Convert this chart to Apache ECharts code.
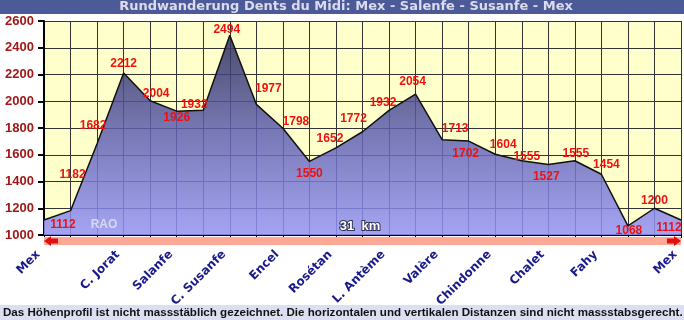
<!DOCTYPE html>
<html><head><meta charset="utf-8">
<script src="https://cdn.jsdelivr.net/npm/echarts@6/dist/echarts.min.js"></script>
<style>html,body{margin:0;padding:0;background:#fff}#c{width:684px;height:320px}</style>
</head><body><div id="c"></div>
<script>
// ---- data ----
const stops = ['Mex','','','C. Jorat','','Salanfe','','C. Susanfe','','Encel','','Rosétan','','L. Antème','','Valère','','Chindonne','','Chalet','','Fahy','','','Mex'];
const elevations = [1112,1182,1682,2212,2004,1926,1932,2494,1977,1798,1550,1652,1772,1932,2054,1713,1702,1604,1555,1527,1555,1454,1068,1200,1112];
const yTicks = {min:1000, max:2600, step:200};
const titleText = 'Rundwanderung Dents du Midi: Mex - Salenfe - Susanfe - Mex';
const footText = 'Das Höhenprofil ist nicht massstäblich gezeichnet. Die horizontalen und vertikalen Distanzen sind nicht massstabsgerecht.';
const distanceText = '31  km';
const sourceText = 'RAO';
// ---- label placement (style) ----
const labelOffsets = [[19,5],[2,-36],[-4,-18],[0,-9],[6,-7],[0,7],[-9,-6],[-3,-5],[12,-16],[13,-7],[0,12],[-6,-9],[-9,-13],[-6,-8],[-3,-12],[13,-11],[-3,13],[8,-10],[5,-4],[-2,12],[1,-7],[5,-10],[1,5],[0,-8],[-12,8]];

const seriesData = elevations.map((v,i)=>({value:v, label:{offset:labelOffsets[i]}}));

const chart = echarts.init(document.getElementById('c'), null, {renderer:'canvas'});
chart.setOption({
  animation:false,
  backgroundColor:'#ffffff',
  grid:{left:44, right:3, top:21, bottom:85, show:true, backgroundColor:'#ffffcc', borderWidth:0},
  xAxis:{
    type:'category', data:stops, boundaryGap:false,
    axisLine:{show:true, lineStyle:{color:'#000', width:2}},
    axisTick:{show:true, interval:0, length:3, lineStyle:{color:'#000'}},
    splitLine:{show:true, interval:0, lineStyle:{color:'#333', width:1}},
    axisLabel:{interval:0, rotate:45, margin:12, padding:[0,8,0,0], color:'#1a1a8c', fontFamily:'DejaVu Sans', fontWeight:'bold', fontSize:12}
  },
  yAxis:{
    type:'value', min:yTicks.min, max:yTicks.max, interval:yTicks.step,
    axisLine:{show:true, lineStyle:{color:'#000', width:2}},
    axisTick:{show:true, length:6, lineStyle:{color:'#000', width:2}},
    splitLine:{show:true, lineStyle:{color:'#333', width:1}},
    axisLabel:{margin:10, formatter:(v)=>String(v), color:'#a01818', fontFamily:'Liberation Sans', fontWeight:'bold', fontSize:13}
  },
  series:[{
    type:'line', data:seriesData, symbol:'circle', symbolSize:1, showSymbol:true,
    itemStyle:{color:'rgba(0,0,0,0)'},
    lineStyle:{color:'#111', width:1.5},
    areaStyle:{opacity:0.85, color:new echarts.graphic.LinearGradient(0,0,0,1,[
      {offset:0, color:'#2c2c5c'},
      {offset:0.5, color:'#6262b4'},
      {offset:1, color:'#9494fa'}
    ])},
    label:{show:true, position:'inside', formatter:'{c}', color:'#ee1111', fontFamily:'Liberation Sans', fontWeight:'bold', fontSize:12},
    z:2
  }],
  graphic:[
    {type:'rect', left:0, top:0, shape:{width:684, height:14}, style:{fill:'#4c5a98'}, z:10},
    {type:'text', x:346, y:7, style:{text:titleText, fill:'#dcdcee', font:'bold 13px "DejaVu Sans"', align:'center', verticalAlign:'middle'}, z:11},
    {type:'rect', left:44, top:237, shape:{width:637, height:8}, style:{fill:'#ffa898'}, z:5},
    {type:'polygon', shape:{points:[[44,241],[51,236],[51,238.5],[58,238.5],[58,243.5],[51,243.5],[51,246]]}, style:{fill:'#e01010'}, z:6},
    {type:'polygon', shape:{points:[[681,241],[674,236],[674,238.5],[667,238.5],[667,243.5],[674,243.5],[674,246]]}, style:{fill:'#e01010'}, z:6},
    {type:'text', x:360, y:226, style:{text:distanceText, fill:'#ffffff', font:'bold 13px "Liberation Sans"', align:'center', verticalAlign:'middle', stroke:'#333355', lineWidth:2}, z:7},
    {type:'text', x:104, y:225, style:{text:sourceText, fill:'#d8d8f0', font:'bold 12px "Liberation Sans"', align:'center', verticalAlign:'middle'}, z:7},
    {type:'rect', left:0, top:305, shape:{width:684, height:15}, style:{fill:'#dcdff2'}, z:8},
    {type:'text', x:3, y:313, style:{text:footText, fill:'#111', font:'bold 11.6px "Liberation Sans"', align:'left', verticalAlign:'middle'}, z:9}
  ]
});
</script></body></html>
